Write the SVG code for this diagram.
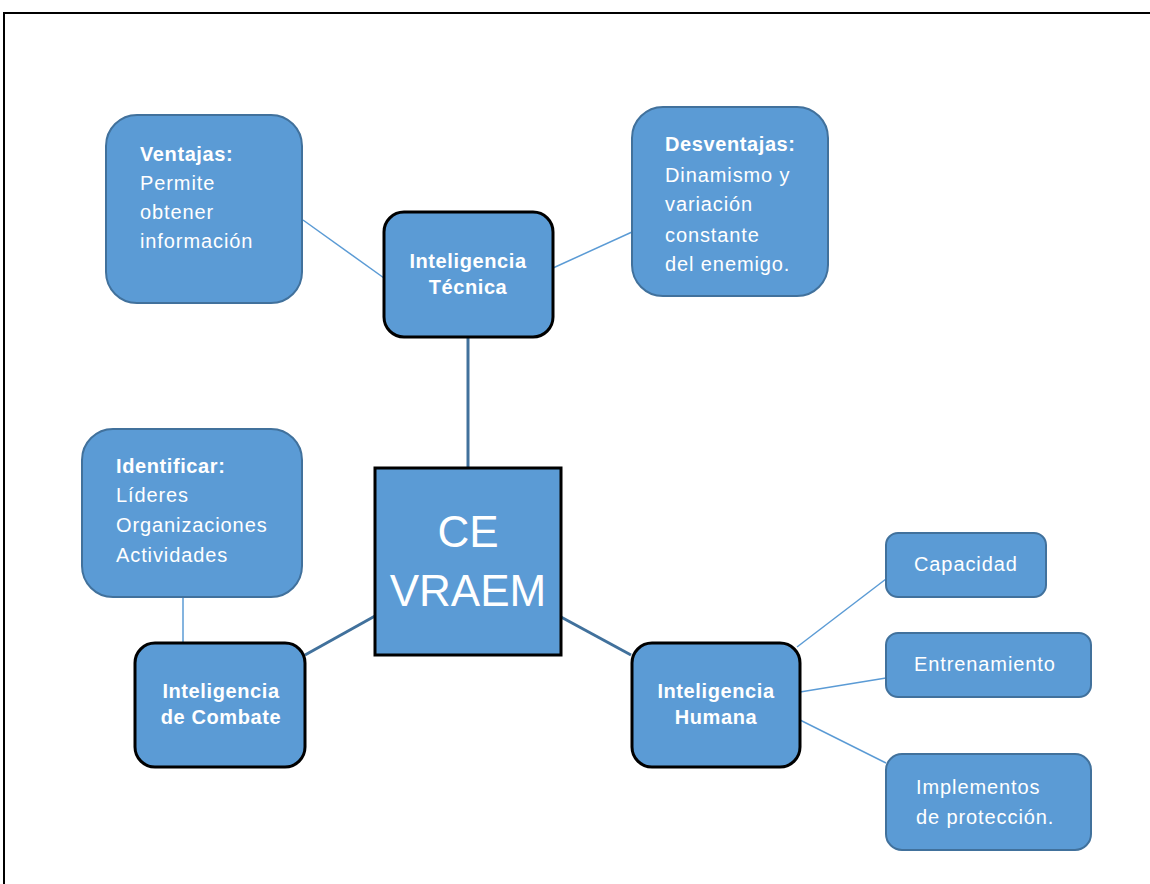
<svg xmlns="http://www.w3.org/2000/svg" width="1150" height="884" viewBox="0 0 1150 884">
<style>
.soft{fill:#5B9BD5;stroke:#41719C;stroke-width:2}
.hard{fill:#5B9BD5;stroke:#000;stroke-width:3}
.t{font-family:"Liberation Sans",Arial,sans-serif;fill:#fff;font-size:20px;letter-spacing:0.9px}
.b{font-weight:bold;letter-spacing:0.6px}
.c{text-anchor:middle}
.big{font-size:44px;letter-spacing:0}
.thin{stroke:#5B9BD5;stroke-width:1.5;fill:none}
.thick{stroke:#41719C;stroke-width:3;fill:none}
</style>
<rect width="1150" height="884" fill="#fff"/>
<path d="M4,884 V13 H1150" fill="none" stroke="#000" stroke-width="2"/>
<g id="connectors">
<line class="thin" x1="303" y1="220" x2="384" y2="278"/>
<line class="thin" x1="553" y1="268" x2="632" y2="232"/>
<line class="thick" x1="468" y1="337" x2="468" y2="467"/>
<line class="thin" x1="183" y1="597" x2="183" y2="642"/>
<line class="thick" x1="375" y1="616" x2="305" y2="655"/>
<line class="thick" x1="561" y1="617" x2="631" y2="655"/>
<line class="thin" x1="797" y1="647" x2="886" y2="579"/>
<line class="thin" x1="800" y1="692" x2="886" y2="678"/>
<line class="thin" x1="800" y1="720" x2="886" y2="763"/>
</g>
<g id="ventajas">
<rect class="soft" x="106" y="115" width="196" height="188" rx="31"/>
<text class="t" x="140" y="161"><tspan class="b">Ventajas:</tspan><tspan x="140" y="190">Permite</tspan><tspan x="140" y="219">obtener</tspan><tspan x="140" y="248">información</tspan></text>
</g>
<g id="desventajas">
<rect class="soft" x="632" y="107" width="196" height="189" rx="31"/>
<text class="t" x="665" y="151"><tspan class="b">Desventajas:</tspan><tspan x="665" y="182">Dinamismo y</tspan><tspan x="665" y="211">variación</tspan><tspan x="665" y="242">constante</tspan><tspan x="665" y="271">del enemigo.</tspan></text>
</g>
<g id="tecnica">
<rect class="hard" x="384" y="212" width="169" height="125" rx="20"/>
<text class="t b c" x="468" y="268">Inteligencia<tspan x="468" y="294">Técnica</tspan></text>
</g>
<g id="identificar">
<rect class="soft" x="82" y="429" width="220" height="168" rx="31"/>
<text class="t" x="116" y="473"><tspan class="b">Identificar:</tspan><tspan x="116" y="502">Líderes</tspan><tspan x="116" y="532">Organizaciones</tspan><tspan x="116" y="562">Actividades</tspan></text>
</g>
<g id="ce">
<rect class="hard" x="375" y="468" width="186" height="187"/>
<text class="t c big" x="468" y="547">CE<tspan x="468" y="606">VRAEM</tspan></text>
</g>
<g id="combate">
<rect class="hard" x="135" y="643" width="170" height="124" rx="20"/>
<text class="t b c" x="221" y="698">Inteligencia<tspan x="221" y="724">de Combate</tspan></text>
</g>
<g id="humana">
<rect class="hard" x="632" y="643" width="168" height="124" rx="20"/>
<text class="t b c" x="716" y="698">Inteligencia<tspan x="716" y="724">Humana</tspan></text>
</g>
<g id="capacidad">
<rect class="soft" x="886" y="533" width="160" height="64" rx="12"/>
<text class="t" x="914" y="571">Capacidad</text>
</g>
<g id="entrenamiento">
<rect class="soft" x="886" y="633" width="205" height="64" rx="12"/>
<text class="t" x="914" y="671">Entrenamiento</text>
</g>
<g id="implementos">
<rect class="soft" x="886" y="754" width="205" height="96" rx="16"/>
<text class="t" x="916" y="794">Implementos<tspan x="916" y="824">de protección.</tspan></text>
</g>
</svg>
